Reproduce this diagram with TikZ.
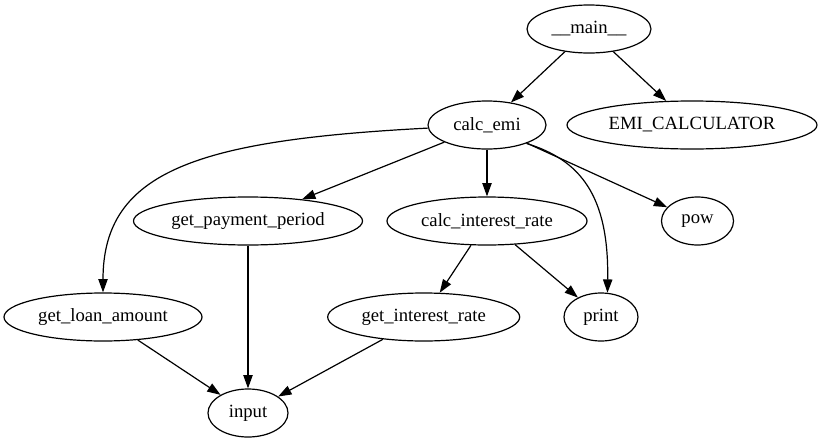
\documentclass[tikz,border=0pt]{standalone}
\usepackage{fontspec}
\setmainfont{Liberation Serif}
\usetikzlibrary{shapes.geometric,arrows.meta}
\tikzset{
  fn/.style={draw, ellipse, line width=0.9pt, inner sep=0pt, minimum height=36pt, font=\fontsize{14pt}{16pt}\selectfont},
  edge/.style={line width=0.9pt, -{Triangle[length=10pt,width=7pt]}}
}
\newcommand{\lbl}[1]{\makebox[0pt][c]{#1}}
\begin{document}
\begin{tikzpicture}[x=0.75pt,y=-0.75pt]
\fill[white] (0,0) rectangle (821,443);
\useasboundingbox (0,0) rectangle (821,443);
\node[fn, minimum width=93pt]    (main)  at (589,29)  {\lbl{\_\_main\_\_}};
\node[fn, minimum width=88.5pt]  (emi)   at (487,125) {\lbl{calc\_emi}};
\node[fn, minimum width=187.5pt] (EMI)   at (692,125) {\lbl{EMI\_CALCULATOR}};
\node[fn, minimum width=171.75pt](gpp)   at (248,221) {\lbl{get\_payment\_period}};
\node[fn, minimum width=150pt]   (cir)   at (487,221) {\lbl{calc\_interest\_rate}};
\node[fn, minimum width=54pt]    (pow)   at (697.5,221) {\lbl{pow}};
\node[fn, minimum width=148.5pt] (gla)   at (103,317) {\lbl{get\_loan\_amount}};
\node[fn, minimum width=144pt]   (gir)   at (423.7,317) {\lbl{get\_interest\_rate}};
\node[fn, minimum width=55.5pt]  (print) at (601,317) {\lbl{print}};
\node[fn, minimum width=60pt]    (input) at (248,413) {\lbl{input}};

\draw[edge] (main) -- (emi);
\draw[edge] (main) -- (EMI);
\draw[edge] (emi.183) .. controls (200,140) and (103,170) .. (gla.north);
\draw[edge] (emi) -- (gpp);
\draw[edge] (emi) -- (cir);
\draw[edge] (emi) -- (pow);
\draw[edge] (emi.-25) .. controls (580,160) and (609,195) .. (print.75);
\draw[edge] (gpp) -- (input);
\draw[edge] (cir) -- (gir);
\draw[edge] (cir) -- (print);
\draw[edge] (gla) -- (input);
\draw[edge] (gir) -- (input);
\end{tikzpicture}
\end{document}
